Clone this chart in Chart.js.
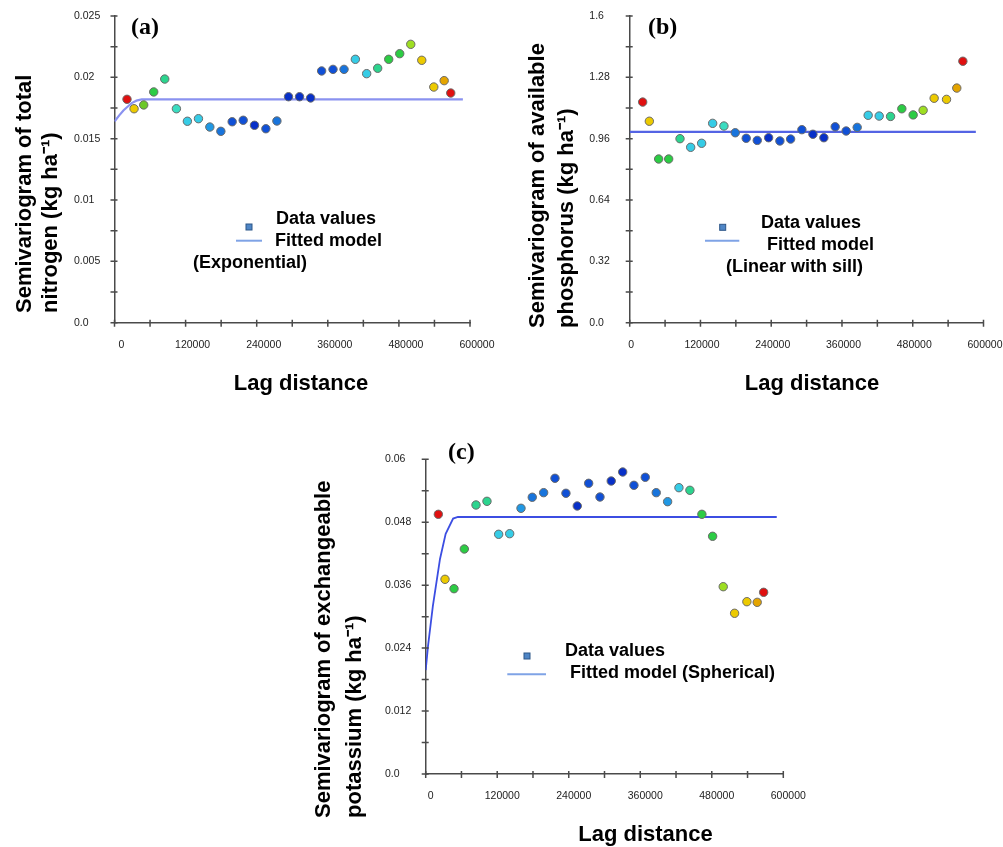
<!DOCTYPE html>
<html><head><meta charset="utf-8">
<script src="https://cdn.jsdelivr.net/npm/chart.js@4.4.1/dist/chart.umd.min.js"></script>
<style>
html,body{margin:0;padding:0;background:#fff;}
#wrap{position:relative;width:1003px;height:847px;overflow:hidden;background:#fff;}
canvas{position:absolute;}
</style></head><body>
<div id="wrap">
<canvas id="ca" width="500" height="400" style="left:0;top:0;width:500px;height:400px"></canvas>
<canvas id="cb" width="503" height="400" style="left:500px;top:0;width:503px;height:400px"></canvas>
<canvas id="cc" width="520" height="417" style="left:300px;top:430px;width:520px;height:417px"></canvas>
</div>
<script>
// ---------- data ----------
const LAG_A = [21100, 33000, 49300, 66200, 84800, 104500, 123000, 141700, 160900, 179500, 198600, 217200, 236300, 255500, 274100, 293700, 312300, 331000, 349600, 368800, 387400, 406500, 425600, 444200, 462800, 481400, 500000, 518600, 538900, 556400, 567500];
const GAMMA_A = [0.01821, 0.01744, 0.01775, 0.01881, 0.01986, 0.01744, 0.01642, 0.01663, 0.01595, 0.0156, 0.01638, 0.0165, 0.01609, 0.01581, 0.01644, 0.01842, 0.01842, 0.01832, 0.02052, 0.02065, 0.02065, 0.02147, 0.0203, 0.02074, 0.02147, 0.02193, 0.02269, 0.02139, 0.01921, 0.01973, 0.01872];
const MODEL_A_LAG = [0, 8000, 15000, 22000, 29000, 37000, 46000, 588000];
const MODEL_A_GAMMA = [0.0164, 0.0169, 0.0173, 0.0176, 0.0179, 0.0181, 0.0182, 0.0182];

const LAG_B = [22000, 33300, 49100, 66100, 85300, 103400, 122000, 140700, 159800, 179000, 197600, 216300, 235600, 254700, 272900, 292000, 310700, 329300, 348500, 367100, 385800, 404400, 423100, 442400, 461500, 480700, 497600, 516300, 537300, 554700, 565000];
const GAMMA_B = [1.151, 1.051, 0.854, 0.854, 0.960, 0.915, 0.936, 1.040, 1.026, 0.991, 0.962, 0.951, 0.965, 0.948, 0.958, 1.007, 0.983, 0.965, 1.022, 1.000, 1.019, 1.082, 1.078, 1.076, 1.116, 1.084, 1.108, 1.171, 1.165, 1.224, 1.364];
const MODEL_B_LAG = [0, 587000];
const MODEL_B_GAMMA = [0.996, 0.996];

const LAG_C = [21200, 32400, 47500, 64800, 84400, 102800, 122400, 140900, 159900, 178800, 197900, 216900, 235300, 254300, 273400, 292400, 311300, 330500, 349400, 368400, 386800, 405900, 424900, 443300, 463400, 481400, 499200, 518300, 538900, 556200, 567000];
const GAMMA_C = [0.04951, 0.03712, 0.03533, 0.0429, 0.05129, 0.05199, 0.0457, 0.04582, 0.05066, 0.05276, 0.05364, 0.05638, 0.05352, 0.0511, 0.05542, 0.05281, 0.05586, 0.05758, 0.05504, 0.05657, 0.05364, 0.05192, 0.05459, 0.05409, 0.04951, 0.04532, 0.03571, 0.03064, 0.03285, 0.03273, 0.03464];
const MODEL_C_LAG = [0, 4000, 12000, 24000, 33500, 46000, 54000, 589000];
const MODEL_C_GAMMA = [0.0198, 0.0245, 0.032, 0.041, 0.0458, 0.0487, 0.049, 0.049];

const X_MAX = 600000, X_STEP = 60000;
const Y_MAX_A = 0.025, Y_STEP_A = 0.0025;
const Y_MAX_B = 1.6, Y_STEP_B = 0.16;
const Y_MAX_C = 0.06, Y_STEP_C = 0.006;

// ---------- styles ----------
const R='#e01010', Y='#ecca00', O='#e4a400', YG='#9ede22', G='#2ccc44', TG='#2cd48e', AQ='#3adcc0', C='#36cce6', LB='#2098e4', MB='#1874dc', B='#1050d6', DB='#0830c8';
const COLORS_A = [R, Y, '#6cc828', G, TG, AQ, C, C, LB, MB, B, B, DB, B, MB, DB, DB, DB, B, B, MB, C, C, TG, G, G, YG, Y, Y, O, R];
const COLORS_B = [R, Y, G, G, TG, C, C, C, AQ, MB, B, B, DB, B, B, B, DB, DB, B, B, MB, C, C, TG, G, G, YG, Y, Y, O, R];
const COLORS_C = [R, Y, G, G, TG, TG, C, C, LB, MB, MB, B, B, DB, B, B, DB, DB, B, B, MB, LB, C, TG, G, G, YG, Y, Y, O, R];

const AXIS = '#4a4a4a';
const TICK_FONT = { family: '"Liberation Sans", Arial, sans-serif', size: 10.5 };
const TITLE_FONT = 'bold 22px "Liberation Sans", Arial, sans-serif';
const LEG_FONT = 'bold 18px "Liberation Sans", Arial, sans-serif';
const PANEL_FONT = 'bold 24px "Liberation Serif", "Times New Roman", serif';
const UP = -Math.PI / 2;

function makeDeco(cfg) {
  return {
    id: 'deco',
    afterDraw(chart) {
      const ctx = chart.ctx, a = chart.chartArea, xs = chart.scales.x, ys = chart.scales.y;
      ctx.save();
      ctx.strokeStyle = AXIS; ctx.lineWidth = 1.5;
      ctx.beginPath();
      xs.ticks.forEach(t => { const px = xs.getPixelForValue(t.value); ctx.moveTo(px, a.bottom - 3); ctx.lineTo(px, a.bottom + 4); });
      ys.ticks.forEach(t => { const py = ys.getPixelForValue(t.value); ctx.moveTo(a.left - 4, py); ctx.lineTo(a.left + 3, py); });
      ctx.stroke();
      const m = cfg.marker;
      ctx.fillStyle = '#4f86c6'; ctx.strokeStyle = '#2d5688'; ctx.lineWidth = 1;
      ctx.fillRect(m[0] - 3, m[1] - 3, 6, 6); ctx.strokeRect(m[0] - 3, m[1] - 3, 6, 6);
      const l = cfg.legLine;
      ctx.strokeStyle = '#7fa3e6'; ctx.lineWidth = 2;
      ctx.beginPath(); ctx.moveTo(l[0], l[2]); ctx.lineTo(l[1], l[2]); ctx.stroke();
      cfg.texts.forEach(it => {
        ctx.save();
        ctx.font = it.font; ctx.fillStyle = '#000';
        ctx.textAlign = it.align || 'left'; ctx.textBaseline = 'middle';
        ctx.translate(it.x, it.y);
        if (it.rot) ctx.rotate(it.rot);
        ctx.fillText(it.t, 0, 0);
        ctx.restore();
      });
      ctx.restore();
    }
  };
}

function yLabel(v, i) {
  if (i % 2 !== 0) return '';
  return v === 0 ? '0.0' : String(+v.toFixed(6));
}

function build(id, p) {
  return new Chart(document.getElementById(id), {
    type: 'scatter',
    data: { datasets: [
      { label: 'Data values', data: p.lag.map((x, i) => ({ x, y: p.gamma[i] })),
        pointRadius: 4.2, pointHoverRadius: 4.2, pointBackgroundColor: p.colors,
        pointBorderColor: '#6a6a6a', pointBorderWidth: 1, showLine: false, order: 1 },
      { label: 'Fitted model', data: p.mLag.map((x, i) => ({ x, y: p.mGamma[i] })),
        showLine: true, borderColor: p.lineColor, borderWidth: p.lineWidth,
        pointRadius: 0, tension: 0, fill: false, order: 2 }
    ]},
    options: {
      responsive: false, animation: false,
      layout: { padding: p.pad },
      plugins: { legend: { display: false }, tooltip: { enabled: false } },
      scales: {
        x: { type: 'linear', min: 0, max: X_MAX,
          ticks: { stepSize: X_STEP, autoSkip: false, maxRotation: 0, padding: 0, labelOffset: p.labelOffset,
                   font: TICK_FONT, color: '#222', callback: (v, i) => i % 2 === 0 ? String(v) : '' },
          grid: { display: false, drawTicks: true, tickLength: 16 },
          border: { display: true, color: AXIS, width: 1.5 },
          afterFit: s => { s.height = p.xAxisH; } },
        y: { type: 'linear', min: 0, max: p.ymax,
          ticks: { stepSize: p.ystep, autoSkip: false, crossAlign: 'far', padding: 0,
                   font: TICK_FONT, color: '#222', callback: yLabel },
          grid: { display: false, drawTicks: false },
          border: { display: true, color: AXIS, width: 1.5 },
          afterFit: s => { s.width = p.yAxisW; } }
      }
    },
    plugins: [makeDeco(p.deco)]
  });
}

build('ca', {
  lag: LAG_A, gamma: GAMMA_A, colors: COLORS_A, mLag: MODEL_A_LAG, mGamma: MODEL_A_GAMMA,
  lineColor: '#8a92f0', lineWidth: 2.2, ymax: Y_MAX_A, ystep: Y_STEP_A, labelOffset: 7,
  pad: { left: 74, top: 16, right: 30, bottom: 0 }, yAxisW: 40.5, xAxisH: 77.3,
  deco: {
    marker: [249, 227], legLine: [236, 262, 240.7],
    texts: [
      { t: '(a)', x: 131, y: 28, font: PANEL_FONT },
      { t: 'Semivariogram of total', x: 25, y: 313, rot: UP, font: TITLE_FONT },
      { t: 'nitrogen (kg ha\u207B\u00B9)', x: 51, y: 313, rot: UP, font: TITLE_FONT },
      { t: 'Lag distance', x: 301, y: 384, align: 'center', font: TITLE_FONT },
      { t: 'Data values', x: 276, y: 219, font: LEG_FONT },
      { t: 'Fitted model', x: 275, y: 241, font: LEG_FONT },
      { t: '(Exponential)', x: 193, y: 263, font: LEG_FONT }
    ]
  }
});

build('cb', {
  lag: LAG_B, gamma: GAMMA_B, colors: COLORS_B, mLag: MODEL_B_LAG, mGamma: MODEL_B_GAMMA,
  lineColor: '#5464e4', lineWidth: 2.2, ymax: Y_MAX_B, ystep: Y_STEP_B, labelOffset: 1.5,
  pad: { left: 89.3, top: 16, right: 19.5, bottom: 0 }, yAxisW: 40.4, xAxisH: 77.3,
  deco: {
    marker: [222.7, 227.3], legLine: [205, 239.3, 240.7],
    texts: [
      { t: '(b)', x: 148, y: 28, font: PANEL_FONT },
      { t: 'Semivariogram of available', x: 38, y: 328, rot: UP, font: TITLE_FONT },
      { t: 'phosphorus (kg ha\u207B\u00B9)', x: 67, y: 328, rot: UP, font: TITLE_FONT },
      { t: 'Lag distance', x: 312, y: 384, align: 'center', font: TITLE_FONT },
      { t: 'Data values', x: 261, y: 223, font: LEG_FONT },
      { t: 'Fitted model', x: 267, y: 245, font: LEG_FONT },
      { t: '(Linear with sill)', x: 226, y: 267, font: LEG_FONT }
    ]
  }
});

build('cc', {
  lag: LAG_C, gamma: GAMMA_C, colors: COLORS_C, mLag: MODEL_C_LAG, mGamma: MODEL_C_GAMMA,
  lineColor: '#3c4ee2', lineWidth: 1.8, ymax: Y_MAX_C, ystep: Y_STEP_C, labelOffset: 5,
  pad: { left: 85, top: 29.3, right: 36.7, bottom: 0 }, yAxisW: 40.7, xAxisH: 73,
  deco: {
    marker: [227, 226], legLine: [207.3, 246, 244.3],
    texts: [
      { t: '(c)', x: 148, y: 23, font: PANEL_FONT },
      { t: 'Semivariogram of exchangeable', x: 24, y: 388, rot: UP, font: TITLE_FONT },
      { t: 'potassium (kg ha\u207B\u00B9)', x: 55, y: 388, rot: UP, font: TITLE_FONT },
      { t: 'Lag distance', x: 345.5, y: 405, align: 'center', font: TITLE_FONT },
      { t: 'Data values', x: 265, y: 221, font: LEG_FONT },
      { t: 'Fitted model (Spherical)', x: 270, y: 243, font: LEG_FONT }
    ]
  }
});
</script>
</body></html>
